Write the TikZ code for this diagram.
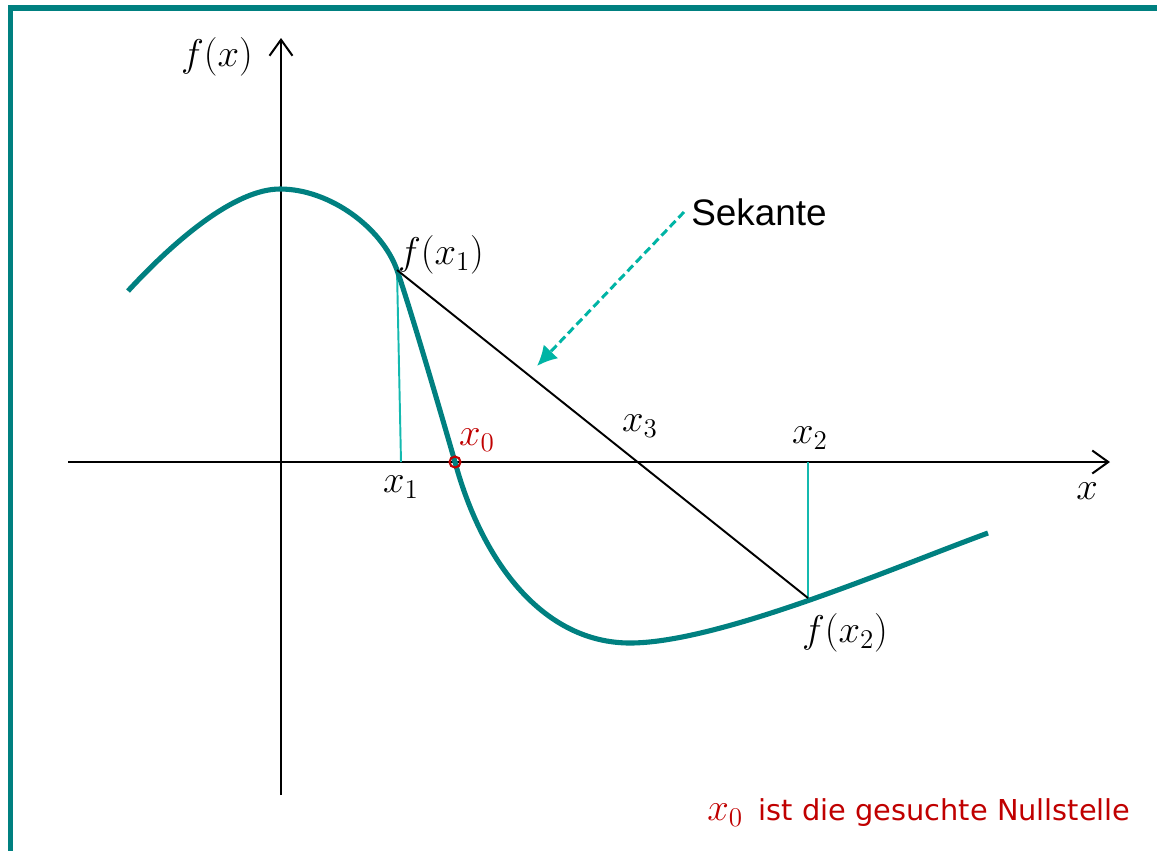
\documentclass[tikz,border=0pt]{standalone}
\usepackage{fix-cm}
\usepackage{fontspec}
\newfontfamily\arialfont{Liberation Sans}
\newfontfamily\notefont{DejaVu Sans}
\usetikzlibrary{arrows.meta}
\definecolor{frameteal}{RGB}{0,128,128}
\definecolor{curveteal}{RGB}{0,128,128}
\definecolor{lightteal}{RGB}{20,185,175}
\definecolor{arrowteal}{RGB}{0,180,165}
\definecolor{darkred}{RGB}{192,0,0}
\tikzset{
  axis/.style={line width=1.15pt,black,-{Straight Barb[length=3.2mm,width=4.6mm,line width=1.15pt]}},
  curvestyle/.style={line width=2.9pt,curveteal,line join=round},
  secant/.style={line width=1.1pt,black},
  dropline/.style={line width=1.1pt,lightteal},
  pointer/.style={line width=1.7pt,arrowteal,dash pattern=on 4.6pt off 2.4pt,-{Latex[length=4mm,width=4mm]}},
  mlabel/.style={font=\fontsize{22}{26}\selectfont,inner sep=0pt},
  redlabel/.style={mlabel,text=darkred},
  framestyle/.style={line width=2.9pt,frameteal,line join=miter}
}
\begin{document}
\begin{tikzpicture}[x=0.02cm,y=-0.02cm]
\useasboundingbox (0,0) rectangle (1157,850);
% frame
\draw[framestyle] (10.5,860) -- (10.5,8) -- (1170,8);
% coordinates
\coordinate (xa0) at (68,462);
\coordinate (xa1) at (1110,462);
\coordinate (ya0) at (281,795);
\coordinate (ya1) at (281,38);
\coordinate (C0) at (128,291);
\coordinate (Top) at (280,189);
\coordinate (P1) at (397,270);
\coordinate (P2) at (808,598);
\coordinate (Min) at (630,643);
\coordinate (C9) at (988,533);
\coordinate (X1) at (401,462);
\coordinate (X2) at (808,462);
\coordinate (X0) at (455,462);
\coordinate (S0) at (684,212);
\coordinate (S1) at (537,366);
% axes
\draw[axis] (xa0) -- (xa1);
\draw[axis] (ya0) -- (ya1);
% drop lines
\draw[dropline] (P1) -- (X1);
\draw[dropline] (X2) -- (P2);
% curve
\draw[curvestyle] (C0) .. controls (175,240) and (235,189) .. (Top)
  .. controls (330,189) and (382,228) .. (P1)
  .. controls (412,314) and (440,410) .. (X0)
  .. controls (483,565) and (545,643) .. (Min)
  .. controls (720,643) and (900,565) .. (C9);
% secant
\draw[secant] (P1) -- (P2);
% zero circle
\draw[darkred,line width=1.2pt] (X0) circle[radius=5.5];
% pointer
\draw[pointer] (S0) -- (S1);
% labels
\node[mlabel] (lfx) at (217,57) {$f(x)$};
\node[mlabel] (lx) at (1087,491) {$x$};
\node[mlabel] (lx1) at (401,487) {$x_1$};
\node[redlabel] (lx0) at (477,440) {$x_0$};
\node[mlabel] (lx3) at (640,426) {$x_3$};
\node[mlabel] (lx2) at (810,438) {$x_2$};
\node[mlabel] (lfx1) at (441,255) {$f(x_1)$};
\node[mlabel] (lfx2) at (845,633) {$f(x_2)$};
\node[font=\arialfont\fontsize{21}{24}\selectfont,inner sep=0pt,anchor=west] (sek) at (691,212) {Sekante};
\node[anchor=west,inner sep=0pt,text=darkred] (note) at (707,813)
  {{\fontsize{22}{26}\selectfont$x_0$}\hspace{9pt}{\notefont\fontsize{16.4}{19}\selectfont ist die gesuchte Nullstelle}};
\end{tikzpicture}
\end{document}
